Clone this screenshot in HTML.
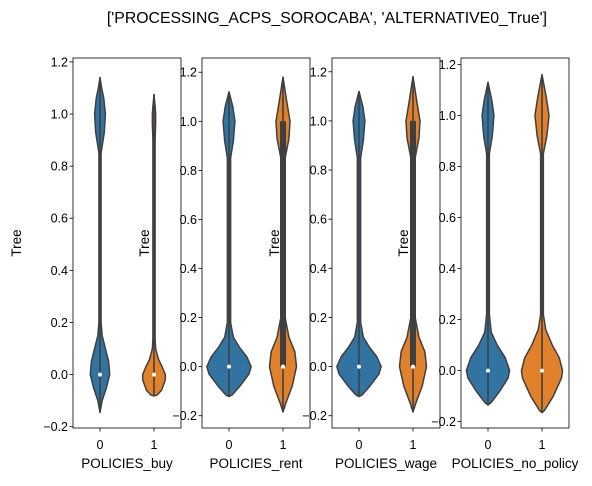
<!DOCTYPE html>
<html><head><meta charset="utf-8"><style>
body{margin:0;background:#fff;}
svg{font-family:"Liberation Sans","DejaVu Sans",sans-serif;}
</style></head><body>
<svg id="c" width="592" height="481" viewBox="0 0 592 481">
<text x="327" y="23" text-anchor="middle" font-size="15.8" fill="#000">['PROCESSING_ACPS_SOROCABA', 'ALTERNATIVE0_True']</text>
</svg>
<script>
// Panel config
const panelNames = ["POLICIES_buy","POLICIES_rent","POLICIES_wage","POLICIES_no_policy"];
const categories = ["0","1"];
const yTicks = [-0.2,0,0.2,0.4,0.6,0.8,1.0,1.2];
const yTickLabels = ["\u22120.2","0.0","0.2","0.4","0.6","0.8","1.0","1.2"];
// y domains per panel
const yMin = [-0.205,-0.25,-0.25,-0.225];
const yMax = [1.215,1.258,1.256,1.225];
// violin density profiles: y positions and half-widths (category units)
const buy0Y = [-0.145,-0.1,-0.05,0,0.05,0.1,0.15,0.2,0.5,0.85,0.93,1.0,1.06,1.1,1.14];
const buy0W = [0,0.04,0.12,0.18,0.16,0.1,0.04,0.02,0.02,0.02,0.08,0.1,0.07,0.03,0];
const buy1Y = [-0.082,-0.078,-0.06,-0.02,0,0.03,0.06,0.1,0.14,0.9,0.96,1.0,1.03,1.075];
const buy1W = [0,0.06,0.14,0.21,0.21,0.15,0.08,0.03,0.02,0.02,0.03,0.03,0.02,0];
const rent0Y = [-0.122,-0.115,-0.08,-0.03,0,0.04,0.08,0.12,0.18,0.85,0.92,1.0,1.06,1.12];
const rent0W = [0,0.06,0.2,0.37,0.41,0.33,0.19,0.08,0.03,0.03,0.08,0.11,0.07,0];
const rent1Y = [-0.185,-0.15,-0.08,0,0.06,0.12,0.2,0.85,0.93,1.0,1.08,1.18];
const rent1W = [0,0.05,0.17,0.25,0.22,0.11,0.04,0.04,0.11,0.13,0.07,0];
const wage0Y = rent0Y;
const wage0W = rent0W;
const wage1Y = rent1Y;
const wage1W = rent1W;
const nop0Y = [-0.135,-0.125,-0.08,-0.03,0,0.05,0.1,0.15,0.22,0.85,0.92,1.0,1.06,1.13];
const nop0W = [0,0.06,0.22,0.37,0.4,0.32,0.17,0.06,0.025,0.025,0.08,0.11,0.07,0];
const nop1Y = [-0.165,-0.155,-0.1,-0.03,0,0.05,0.1,0.16,0.22,0.85,0.92,1.0,1.07,1.16];
const nop1W = [0,0.05,0.21,0.36,0.38,0.32,0.19,0.07,0.025,0.025,0.09,0.13,0.08,0];
// quartiles & medians per violin
const q1 = [[0,0],[0,0],[0,0],[0,0]];
const q3 = [[0,0],[0,1],[0,1],[0,0]];
const medians = [[0,0],[0,0],[0,0],[0,0]];
const profilesY = [[buy0Y,buy1Y],[rent0Y,rent1Y],[wage0Y,wage1Y],[nop0Y,nop1Y]];
const profilesW = [[buy0W,buy1W],[rent0W,rent1W],[wage0W,wage1W],[nop0W,nop1W]];

const colors = ["#3274a1","#e1812c"];
const panelX = [73,202,332,461], panelW = 108, plotTop = 58, plotBot = 428;
const ns = "http://www.w3.org/2000/svg";
const svgEl = document.getElementById("c");
function mk(t,a,p){const e=document.createElementNS(ns,t);for(const k in a)e.setAttribute(k,a[k]);(p||svgEl).appendChild(e);return e;}

panelNames.forEach((name,pi)=>{
  const x0 = panelX[pi];
  const g = mk("g",{});
  
  
  const yS = v => plotBot - (v - yMin[pi])/(yMax[pi]-yMin[pi])*(plotBot-plotTop);
  const xS = c => x0 + (c+0.5)/2*panelW;
  const unit = panelW/2;
  categories.forEach((cat,ci)=>{
    const ys = profilesY[pi][ci], ws = profilesW[pi][ci], cx = xS(ci);
    let d = "";
    ys.forEach((y,i)=>{d += (i?"L":"M")+(cx+ws[i]*unit).toFixed(2)+","+yS(y).toFixed(2);});
    for(let i=ys.length-1;i>=0;i--) d += "L"+(cx-ws[i]*unit).toFixed(2)+","+yS(ys[i]).toFixed(2);
    d += "Z";
    const v = mk("path",{d:d,fill:colors[ci],stroke:"#3f3f3f","stroke-width":1.5,"stroke-linejoin":"round"},g);
    
    
    const wl = mk("line",{x1:cx,x2:cx,y1:yS(ys[0]),y2:yS(ys[ys.length-1]),stroke:"#3f3f3f","stroke-width":1.6},g);
    
    
    if(q3[pi][ci] > q1[pi][ci]){
      const b = mk("rect",{x:cx-3,y:yS(q3[pi][ci]),width:6,height:yS(q1[pi][ci])-yS(q3[pi][ci]),fill:"#3f3f3f"},g);
      
      
    }
    const m = mk("circle",{cx:cx,cy:yS(medians[pi][ci]),r:2,fill:"#fff"},g);
    
    
    mk("line",{x1:cx,x2:cx,y1:plotBot,y2:plotBot+3.5,stroke:"#000","stroke-width":0.8},g);
    const tl = mk("text",{x:cx,y:plotBot+21,"text-anchor":"middle","font-size":12.5},g);
    tl.textContent = cat;
    
    
  });
  yTicks.forEach((t,ti)=>{
    const y = yS(t);
    if(y<plotTop-1||y>plotBot+1) return;
    mk("line",{x1:x0-3.5,x2:x0,y1:y,y2:y,stroke:"#000","stroke-width":0.8},g);
    const tl = mk("text",{x:x0-5,y:y+4.5,"text-anchor":"end","font-size":12.5},g);
    tl.textContent = yTickLabels[ti];
    
    
  });
  const fr = mk("rect",{x:x0,y:plotTop,width:panelW,height:plotBot-plotTop,fill:"none",stroke:"#000","stroke-width":0.8},g);
  
  
  const xl = mk("text",{x:x0+panelW/2,y:plotBot+40,"text-anchor":"middle","font-size":13.5},g);
  xl.textContent = name;
  
  
  const lx = [21,149,279,408][pi];
  const yl = mk("text",{x:lx,y:243,"text-anchor":"middle","font-size":13.5,transform:"rotate(-90 "+lx+" 243)"},g);
  yl.textContent = "Tree";
  
  
});
</script>
</body></html>
